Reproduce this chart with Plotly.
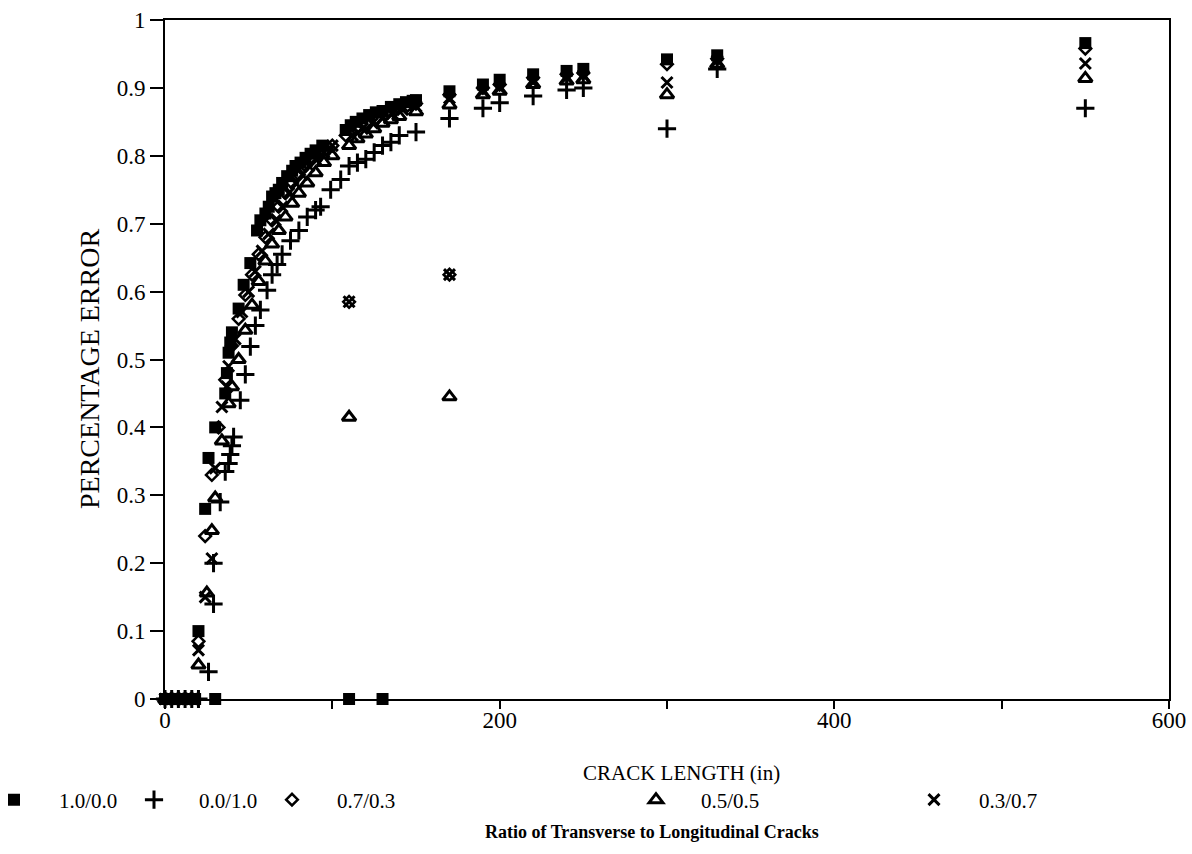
import plotly.graph_objects as go

# ---------------- data ----------------
x_10_00 = [0, 2, 4, 6, 8, 10, 12, 14, 16, 18, 30, 110, 130,
           20, 24, 26, 30, 36, 37, 38, 39, 40, 44, 47, 51, 55, 57, 60, 62, 64, 66,
           68, 70, 73, 76, 78, 81, 84, 87, 90, 94, 108, 111, 114, 118, 122, 126,
           130, 135, 140, 144, 148, 150, 170, 190, 200, 220, 240, 250, 300, 330, 550]
y_10_00 = [0, 0, 0, 0, 0, 0, 0, 0, 0, 0, 0, 0, 0,
           0.10, 0.28, 0.355, 0.40, 0.45, 0.48, 0.51, 0.525, 0.54, 0.575, 0.61, 0.642, 0.69, 0.705, 0.715, 0.725, 0.74, 0.745,
           0.75, 0.76, 0.77, 0.778, 0.785, 0.79, 0.797, 0.803, 0.808, 0.815, 0.838, 0.845, 0.85, 0.855, 0.86, 0.864,
           0.866, 0.872, 0.876, 0.879, 0.881, 0.882, 0.895, 0.905, 0.912, 0.92, 0.925, 0.928, 0.942, 0.948, 0.966]

x_00_10 = [0, 4, 8, 12, 16, 20, 26, 29, 29, 33, 36, 38, 39, 40, 41, 45, 48, 51, 54, 57,
           61, 64, 67, 70, 75, 80, 85, 90, 93, 99, 105, 110, 115, 120, 125, 130, 135, 140,
           150, 170, 190, 200, 220, 240, 250, 300, 330, 550]
y_00_10 = [0, 0, 0, 0, 0, 0, 0.04, 0.14, 0.20, 0.29, 0.335, 0.347, 0.36, 0.373, 0.386, 0.44, 0.478, 0.519, 0.55, 0.573,
           0.602, 0.625, 0.64, 0.655, 0.675, 0.69, 0.71, 0.72, 0.725, 0.75, 0.765, 0.785, 0.79, 0.795, 0.805, 0.815, 0.82, 0.83,
           0.835, 0.855, 0.87, 0.878, 0.888, 0.897, 0.90, 0.84, 0.928, 0.87]

x_07_03 = [0, 4, 8, 12, 16, 20, 24, 28, 32, 36, 40, 44, 48, 52, 56, 60, 64, 68, 72, 76, 80,
           84, 88, 92, 96, 100, 108, 110, 114, 120, 126, 132, 138, 145, 150, 170, 170, 190, 200, 220,
           240, 250, 300, 330, 550]
y_07_03 = [0, 0, 0, 0, 0, 0.085, 0.24, 0.33, 0.40, 0.47, 0.52, 0.56, 0.595, 0.625, 0.655, 0.68, 0.705, 0.725, 0.745, 0.76, 0.772,
           0.785, 0.795, 0.803, 0.81, 0.815, 0.83, 0.585, 0.84, 0.848, 0.855, 0.862, 0.868, 0.874, 0.877, 0.625, 0.89, 0.90, 0.905, 0.915,
           0.92, 0.922, 0.935, 0.943, 0.958]

x_05_05 = [0, 4, 8, 12, 16, 20, 25, 28, 30, 34, 38, 40, 44, 48, 52, 56, 60, 64, 68, 72, 76,
           80, 85, 90, 95, 100, 110, 110, 115, 120, 125, 130, 135, 140, 150, 170, 170, 190,
           200, 220, 240, 250, 300, 330, 550]
y_05_05 = [0, 0, 0, 0, 0, 0.05, 0.156, 0.248, 0.296, 0.38, 0.435, 0.46, 0.50, 0.543, 0.58, 0.615, 0.645, 0.67, 0.69, 0.71, 0.73,
           0.745, 0.76, 0.775, 0.79, 0.80, 0.415, 0.815, 0.825, 0.832, 0.84, 0.848, 0.853, 0.858, 0.865, 0.445, 0.875, 0.89,
           0.895, 0.905, 0.91, 0.912, 0.89, 0.935, 0.914]

x_03_07 = [0, 4, 8, 12, 16, 20, 24, 28, 30, 34, 37, 38, 42, 46, 50, 54, 58, 62, 66, 70, 74,
           78, 82, 86, 90, 95, 100, 110, 112, 118, 124, 130, 136, 142, 150, 170, 170, 190,
           200, 220, 240, 250, 300, 330, 550]
y_03_07 = [0, 0, 0, 0, 0, 0.072, 0.15, 0.207, 0.34, 0.43, 0.46, 0.49, 0.53, 0.57, 0.60, 0.63, 0.66, 0.685, 0.705, 0.725, 0.745,
           0.76, 0.772, 0.785, 0.795, 0.805, 0.815, 0.585, 0.83, 0.84, 0.848, 0.855, 0.862, 0.868, 0.873, 0.625, 0.885, 0.895,
           0.90, 0.908, 0.915, 0.918, 0.908, 0.94, 0.936]

series_names = ["1.0/0.0", "0.0/1.0", "0.7/0.3", "0.5/0.5", "0.3/0.7"]
x_ticks = [0, 100, 200, 300, 400, 500, 600]
x_tick_text = ["0", "", "200", "", "400", "", "600"]
y_ticks = [0, 0.1, 0.2, 0.3, 0.4, 0.5, 0.6, 0.7, 0.8, 0.9, 1]
y_tick_text = ["0", "0.1", "0.2", "0.3", "0.4", "0.5", "0.6", "0.7", "0.8", "0.9", "1"]

# ---------------- figure ----------------
SERIF = "Liberation Serif, Times New Roman, serif"
BLACK = "#000000"

styles = [
    dict(symbol="square", size=12, color=BLACK, line=dict(width=0)),
    dict(symbol="cross-thin", size=13, color=BLACK, line=dict(width=3, color=BLACK)),
    dict(symbol="diamond-open", size=9, color=BLACK, line=dict(width=2.5, color=BLACK)),
    dict(symbol="triangle-up-open", size=12, color=BLACK, line=dict(width=3, color=BLACK)),
    dict(symbol="x-thin", size=11, color=BLACK, line=dict(width=3, color=BLACK)),
]
xs = [x_10_00, x_00_10, x_07_03, x_05_05, x_03_07]
ys = [y_10_00, y_00_10, y_07_03, y_05_05, y_03_07]
legend_ids = ["legend", "legend2", "legend3", "legend4", "legend5"]
# target pixel x of each legend symbol
legend_sym_px = [15, 155, 293, 657, 935]
SYM_OFFSET = 46  # offset of the symbol from the legend's left edge

fig = go.Figure()
order = [1, 3, 4, 2, 0]
for i in order:
    fig.add_trace(go.Scatter(
        x=xs[i], y=ys[i], mode="markers", name=series_names[i],
        marker=styles[i], cliponaxis=False, legend=legend_ids[i],
    ))

L, R, T, B = 165, 23, 20, 155
W, H = 1192, 854
pw, ph = W - L - R, H - T - B

layout_legends = {}
for lid, px in zip(legend_ids, legend_sym_px):
    layout_legends[lid] = dict(
        x=(px - SYM_OFFSET - L) / pw, y=(699 - 800) / ph, xanchor="left", yanchor="middle",
        orientation="h", font=dict(family=SERIF, size=21, color=BLACK),
        bgcolor="rgba(0,0,0,0)", borderwidth=0, itemwidth=80,
    )

fig.update_layout(
    width=W, height=H,
    margin=dict(l=L, r=R, t=T, b=B, pad=0, autoexpand=False),
    paper_bgcolor="white", plot_bgcolor="white",
    showlegend=True,
    font=dict(family=SERIF, size=21, color=BLACK),
    **layout_legends,
)

fig.update_xaxes(
    range=[0, 600], tickvals=x_ticks, ticktext=x_tick_text,
    ticks="outside", ticklen=8, tickwidth=2, tickcolor=BLACK,
    showline=True, linewidth=2, linecolor=BLACK, mirror=True,
    showgrid=False, zeroline=False, automargin=False,
    tickfont=dict(family=SERIF, size=23, color=BLACK),
    ticklabelstandoff=-9,
)
fig.update_yaxes(
    range=[0, 1], tickvals=y_ticks, ticktext=y_tick_text,
    ticks="outside", ticklen=13, tickwidth=2, tickcolor=BLACK,
    showline=True, linewidth=2, linecolor=BLACK, mirror=True,
    showgrid=False, zeroline=False, automargin=False,
    tickfont=dict(family=SERIF, size=23, color=BLACK),
)

fig.add_annotation(
    text="CRACK LENGTH (in)", xref="paper", yref="paper",
    x=(681 - L) / pw, y=(699 - 773) / ph, showarrow=False,
    xanchor="center", yanchor="middle",
    font=dict(family=SERIF, size=21, color=BLACK),
)
fig.add_annotation(
    text="PERCENTAGE ERROR", xref="paper", yref="paper",
    x=(90 - L) / pw, y=(699 - 369) / ph, showarrow=False, textangle=-90,
    xanchor="center", yanchor="middle",
    font=dict(family=SERIF, size=28, color=BLACK),
)
fig.add_annotation(
    text="<b>Ratio of Transverse to Longitudinal Cracks</b>", xref="paper", yref="paper",
    x=(652 - L) / pw, y=(699 - 832) / ph, showarrow=False,
    xanchor="center", yanchor="middle",
    font=dict(family=SERIF, size=18, color=BLACK),
)

fig.write_html("out.html")
